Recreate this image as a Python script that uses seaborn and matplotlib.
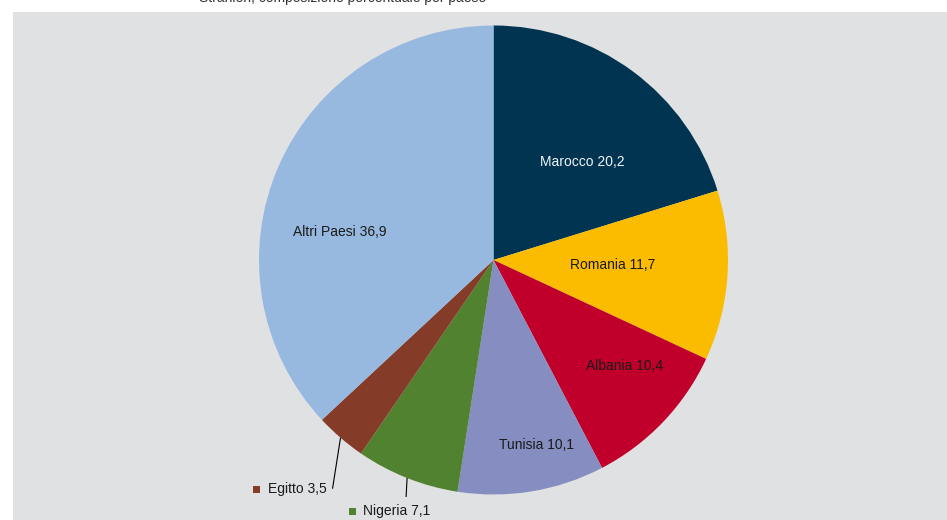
import numpy as np
import matplotlib
matplotlib.use("Agg")
import matplotlib.pyplot as plt
import seaborn as sns

# Share of foreign residents by country of citizenship (%)
paesi = ["Marocco", "Romania", "Albania", "Tunisia", "Nigeria", "Egitto", "Altri Paesi"]
quote = [20.2, 11.7, 10.4, 10.1, 7.1, 3.5, 36.9]
etichette = ["20,2", "11,7", "10,4", "10,1", "7,1", "3,5", "36,9"]
colori = ["#003450", "#fbbc00", "#c0002b", "#868dc0", "#50822f", "#843b28", "#97b9df"]

titolo = "Stranieri, composizione percentuale per paese"

sns.set_theme(style="white")
plt.rcParams["font.family"] = ["Liberation Sans", "DejaVu Sans"]

W, H, DPI = 947, 520, 100
fig = plt.figure(figsize=(W / DPI, H / DPI), dpi=DPI)
fig.patch.set_facecolor("white")

# Grey panel; axis units are laid out as screen pixels (y up)
ax = fig.add_axes([13 / W, 0, (W - 13) / W, (H - 12) / H])
ax.set_facecolor("#e0e1e3")

cx, cy, R = 493.5, 260.0, 234.5
wedges, _ = ax.pie(quote, colors=sns.color_palette(colori), startangle=90,
                   counterclock=False, center=(cx, cy), radius=R, frame=True,
                   wedgeprops=dict(linewidth=0))
ax.set_xlim(13, W)
ax.set_ylim(0, H - 12)
ax.set_aspect("auto")
ax.set_xticks([])
ax.set_yticks([])
for s in ax.spines.values():
    s.set_visible(False)

FS = 10

# Labels inside the slices: (radial fraction, angular shift in degrees, colour)
interni = {
    "Marocco": (0.565, -5.8, "#f2f4f7"),
    "Romania": (0.51, 1.4, "#1a1a1a"),
    "Albania": (0.72, 4.8, "#1a1a1a"),
    "Tunisia": (0.81, 3.6, "#1a1a1a"),
    "Altri Paesi": (0.665, 13.2, "#1a1a1a"),
}
for w, nome, lab in zip(wedges, paesi, etichette):
    if nome not in interni:
        continue
    frac, shift, col = interni[nome]
    ang = np.deg2rad((w.theta1 + w.theta2) / 2 + shift)
    ax.text(cx + frac * R * np.cos(ang), cy + frac * R * np.sin(ang),
            f"{nome} {lab}", ha="center", va="center", fontsize=FS, color=col)

# Small slices: leader line from the rim, label with a colour key
esterni = {
    # line offset (dx, dy), text offset from line end (dx, dy), alignment
    "Egitto": ((-8, -51), (-6, 0), "right"),
    "Nigeria": ((-1, -19), (-9, -14), "center"),
}
testi = []
for w, nome, lab, col in zip(wedges, paesi, etichette, colori):
    if nome not in esterni:
        continue
    (ldx, ldy), (tdx, tdy), ha = esterni[nome]
    ang = np.deg2rad((w.theta1 + w.theta2) / 2)
    x0, y0 = cx + R * np.cos(ang), cy + R * np.sin(ang)
    x1, y1 = x0 + ldx, y0 + ldy
    ax.plot([x0, x1], [y0, y1], color="black", lw=0.8, solid_capstyle="butt")
    t = ax.text(x1 + tdx, y1 + tdy, f"{nome} {lab}", ha=ha, va="center",
                fontsize=FS, color="#1a1a1a")
    testi.append((t, col, y1 + tdy))

fig.canvas.draw()
renderer = fig.canvas.get_renderer()
for t, col, yc in testi:
    bb = t.get_window_extent(renderer)
    ax.scatter([bb.x0 - 11.5], [yc], marker="s", s=(7 * 0.72) ** 2,
               color=col, linewidths=0, zorder=5)

# Heading running off the top edge
fig.text(199 / W, (H - 2) / H, titolo, ha="left", va="baseline",
         fontsize=FS, color="#333333")

fig.savefig("out.png", dpi=DPI, facecolor="white")
